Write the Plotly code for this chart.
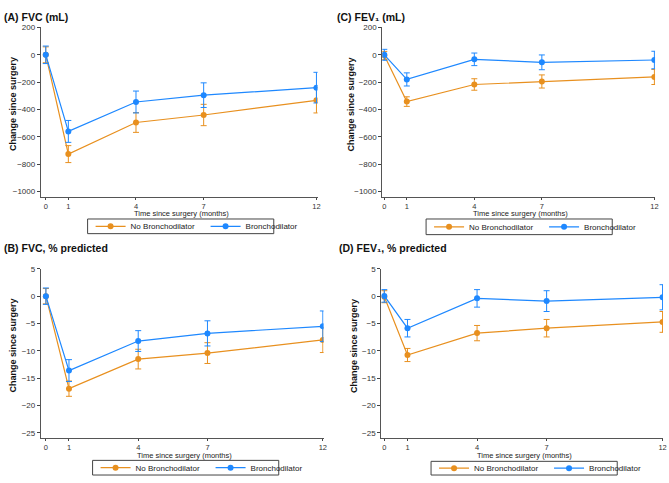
import plotly.graph_objects as go

W, H = 669, 483
months = [0, 1, 4, 7, 12]

# (A) FVC (mL)
fvc_ml_nob = [0, -726, -495, -440, -333]
fvc_ml_nob_err = [58, 62, 72, 78, 92]
fvc_ml_b = [0, -560, -345, -295, -240]
fvc_ml_b_err = [64, 80, 80, 90, 112]

# (C) FEV1 (mL)
fev_ml_nob = [-5, -342, -217, -195, -162]
fev_ml_nob_err = [30, 35, 42, 48, 55]
fev_ml_b = [0, -180, -33, -55, -38]
fev_ml_b_err = [40, 48, 46, 54, 64]

# (B) FVC, % predicted
fvc_pp_nob = [0, -16.9, -11.5, -10.4, -8.0]
fvc_pp_nob_err = [1.4, 1.4, 1.8, 1.9, 2.3]
fvc_pp_b = [0, -13.6, -8.2, -6.8, -5.5]
fvc_pp_b_err = [1.5, 2.0, 1.9, 2.3, 2.8]

# (D) FEV1, % predicted
fev_pp_nob = [-0.1, -10.75, -6.75, -5.85, -4.7]
fev_pp_nob_err = [1.1, 1.2, 1.4, 1.6, 1.9]
fev_pp_b = [0.05, -5.85, -0.4, -0.9, -0.2]
fev_pp_b_err = [1.15, 1.6, 1.6, 1.9, 2.3]

series_names = ["No Bronchodilator", "Bronchodilator"]
colors = ["#E8901F", "#1E88FF"]
FONT = "Arial, Liberation Sans, sans-serif"

fig = go.Figure()

def px_x(p):
    return p / W

def px_y(p):
    return 1 - p / H

panels = [
    dict(title="(A) FVC (mL)", xd=(41, 319), yd=(24, 197), xr=[-0.22, 12.05],
         yr=[-1036, 200], ytick=[200, 0, -200, -400, -600, -800, -1000],
         data=[(fvc_ml_nob, fvc_ml_nob_err), (fvc_ml_b, fvc_ml_b_err)],
         box=(88, 220, 275, 235), tpos=(2, 13), ytl=13, xtl=214.5),
    dict(title="(C) FEV₁ (mL)", xd=(384, 658), yd=(24, 197), xr=[-0.09, 12.03],
         yr=[-1036, 200], ytick=[200, 0, -200, -400, -600, -800, -1000],
         data=[(fev_ml_nob, fev_ml_nob_err), (fev_ml_b, fev_ml_b_err)],
         box=(428, 220, 615, 236), tpos=(337, 13), ytl=353, xtl=214.5),
    dict(title="(B) FVC, % predicted", xd=(41, 325), yd=(271, 444), xr=[-0.22, 12.03],
         yr=[-25.9, 5], ytick=[5, 0, -5, -10, -15, -20, -25],
         data=[(fvc_pp_nob, fvc_pp_nob_err), (fvc_pp_b, fvc_pp_b_err)],
         box=(93, 467, 280, 482), tpos=(2, 250), ytl=13, xtl=462.5),
    dict(title="(D) FEV₁, % predicted", xd=(383, 666), yd=(271, 444), xr=[-0.13, 12.02],
         yr=[-25.9, 5], ytick=[5, 0, -5, -10, -15, -20, -25],
         data=[(fev_pp_nob, fev_pp_nob_err), (fev_pp_b, fev_pp_b_err)],
         box=(433, 468, 620, 482), tpos=(339, 250), ytl=355, xtl=462.5),
]

for i, p in enumerate(panels):
    n = i + 1
    xa = "x" if n == 1 else f"x{n}"
    ya = "y" if n == 1 else f"y{n}"
    legname = "legend" if n == 1 else f"legend{n}"
    for (vals, errs), name, col in zip(p["data"], series_names, colors):
        fig.add_trace(go.Scatter(
            x=months, y=vals, mode="lines+markers", name=name,
            line=dict(color=col, width=1.2),
            marker=dict(color=col, size=6),
            error_y=dict(type="data", array=errs, visible=True, color=col,
                         thickness=1, width=3),
            xaxis=xa, yaxis=ya, legend=legname, showlegend=True,
        ))
    axkey = "" if n == 1 else str(n)
    bx0, by0, bx1, by1 = p["box"]
    fig.update_layout(**{
        f"xaxis{axkey}": dict(
            domain=[px_x(p["xd"][0]), px_x(p["xd"][1])], range=p["xr"],
            anchor=ya, tickvals=months, ticks="outside", ticklen=2,
            tickcolor="#444", showline=True, linecolor="#555", linewidth=1,
            showgrid=False, zeroline=False, ticklabelstandoff=0,
            tickfont=dict(family=FONT, size=7.5, color="#333"),
        ),
        f"yaxis{axkey}": dict(
            domain=[px_y(p["yd"][1]), px_y(p["yd"][0])], range=p["yr"],
            anchor=xa, tickvals=p["ytick"], ticks="outside", ticklen=3,
            tickcolor="#444", showline=True, linecolor="#555", linewidth=1,
            showgrid=False, zeroline=False,
            tickfont=dict(family=FONT, size=8, color="#333"),
        ),
        legname: dict(
            orientation="h", x=px_x(bx0 + 3), y=px_y((by0 + by1) / 2),
            xanchor="left", yanchor="middle", borderwidth=0,
            bgcolor="rgba(0,0,0,0)",
            font=dict(family=FONT, size=8, color="#222"),
            itemwidth=30, tracegroupgap=0, entrywidth=70,
        ),
    })
    fig.add_shape(type="rect", xref="paper", yref="paper",
                  x0=px_x(bx0), x1=px_x(bx1), y0=px_y(by1), y1=px_y(by0),
                  line=dict(color="#444", width=1), layer="below")
    fig.add_annotation(text=f"<b>{p['title']}</b>", xref="paper", yref="paper",
                       x=px_x(p["tpos"][0]), y=px_y(p["tpos"][1]),
                       xanchor="left", yanchor="middle", showarrow=False,
                       font=dict(family=FONT, size=10.5, color="#111"))
    yc = (p["yd"][0] + p["yd"][1]) / 2 - 8
    fig.add_annotation(text="<b>Change since surgery</b>", xref="paper", yref="paper",
                       x=px_x(p["ytl"]), y=px_y(yc), textangle=-90,
                       xanchor="center", yanchor="middle", showarrow=False,
                       font=dict(family=FONT, size=9, color="#111"))
    xc = (p["xd"][0] + p["xd"][1]) / 2 + 2
    fig.add_annotation(text="Time since surgery (months)", xref="paper", yref="paper",
                       x=px_x(xc), y=px_y(p["xtl"]),
                       xanchor="center", yanchor="middle", showarrow=False,
                       font=dict(family=FONT, size=7.5, color="#222"))

fig.update_layout(
    width=W, height=H, margin=dict(l=0, r=0, t=0, b=0),
    paper_bgcolor="white", plot_bgcolor="white",
    font=dict(family=FONT),
)

fig.write_html("out.html", config={"displayModeBar": False},
               post_script="document.body.style.margin='0';document.body.style.overflow='hidden';")
